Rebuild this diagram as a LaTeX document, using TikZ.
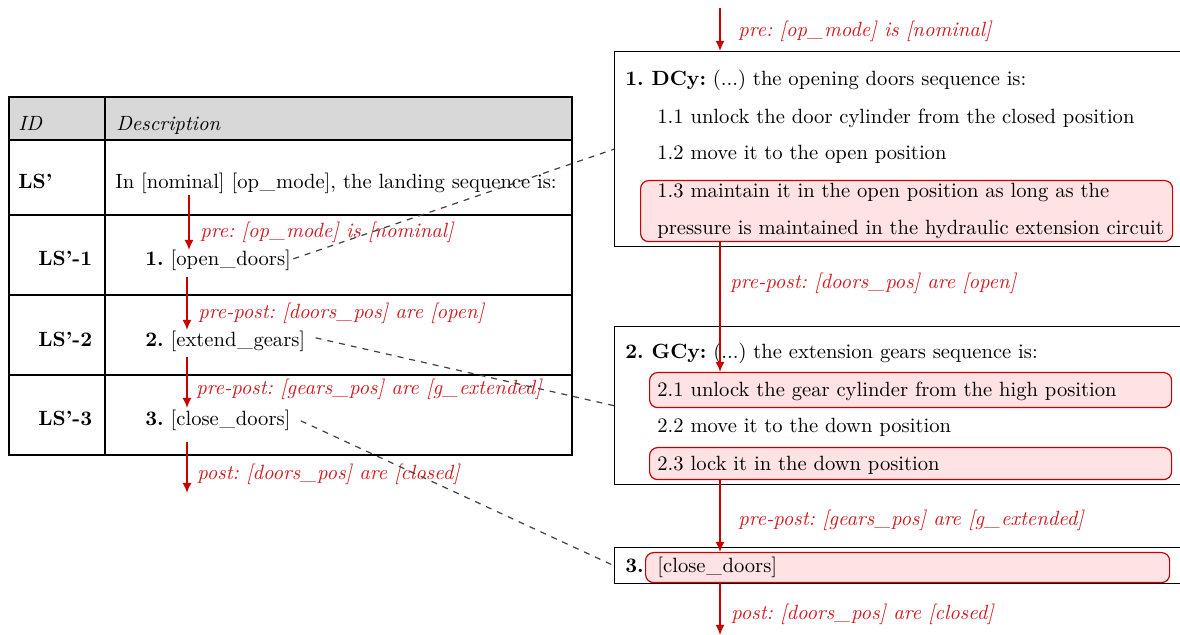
\documentclass[tikz,border=0pt]{standalone}
\usetikzlibrary{arrows.meta}
\definecolor{myred}{RGB}{200,0,0}
\definecolor{lblred}{RGB}{210,25,30}
\definecolor{hdrgray}{RGB}{216,216,216}
\definecolor{pinkfill}{RGB}{255,226,228}
\newcommand{\ulink}{\kern0.4pt\_\kern0.4pt}
\begin{document}
\fontsize{10.3pt}{12pt}\selectfont\frenchspacing
\begin{tikzpicture}[x=0.5pt,y=-0.5pt,
  txt/.style={anchor=base west,inner sep=0pt,yshift=-1pt},
  lbl/.style={anchor=base west,inner sep=0pt,yshift=-1pt,text=lblred,font=\itshape},
  flow/.style={draw=myred,line width=0.8pt,-{Latex[length=5pt,width=4.5pt]}},
  link/.style={draw=black!75,dashed,line width=0.6pt},
  hl/.style={draw=myred,fill=pinkfill,rounded corners=4pt,line width=0.6pt,inner sep=0pt},
  panel/.style={draw=black,line width=0.7pt,inner sep=0pt,anchor=north west},
  grid/.style={line width=0.8pt}]
\useasboundingbox (0,0) rectangle (1180,635);

% ---------------- table ----------------
\fill[hdrgray] (9,97) rectangle (572,140);
\draw[grid] (9,97) rectangle (572,455);
\foreach \yy in {140,215,295,375} \draw[grid] (9,\yy) -- (572,\yy);
\draw[grid] (105,97) -- (105,455);

\node[txt,font=\itshape] (hid) at (18,129) {ID};
\node[txt,font=\itshape] (hdesc) at (116,129) {Description};
\node[txt,font=\bfseries] (ls0) at (18,187) {LS'};
\node[txt] (d0) at (115,187) {In [nominal] [op\ulink mode], the landing sequence is:};
\node[txt,font=\bfseries] (ls1) at (38,264) {LS'-1};
\node[txt] (d1) at (145,264) {\textbf{1.} [open\ulink doors]};
\node[txt,font=\bfseries] (ls2) at (38,345) {LS'-2};
\node[txt] (d2) at (145,345) {\textbf{2.} [extend\ulink gears]};
\node[txt,font=\bfseries] (ls3) at (38,424) {LS'-3};
\node[txt] (d3) at (145,424) {\textbf{3.} [close\ulink doors]};

\coordinate (a1s) at (189,195);
\coordinate (a1e) at (189,250);
\coordinate (a2s) at (187,277);
\coordinate (a2e) at (187,330);
\coordinate (a3s) at (187,357);
\coordinate (a3e) at (187,408);
\coordinate (a4s) at (187,442);
\coordinate (a4e) at (187,493);
\draw[flow] (a1s) -- (a1e);
\draw[flow] (a2s) -- (a2e);
\draw[flow] (a3s) -- (a3e);
\draw[flow] (a4s) -- (a4e);
\node[lbl] (l1) at (200,236) {pre: [op\ulink mode] is [nominal]};
\node[lbl] (l2) at (198,317) {pre-post: [doors\ulink pos] are [open]};
\node[lbl] (l3) at (196,393) {pre-post: [gears\ulink pos] are [g\ulink extended]};
\node[lbl] (l4) at (197,478) {post: [doors\ulink pos] are [closed]};

% ---------------- right panels ----------------
\node[panel,minimum width=287pt,minimum height=97.5pt] (dcy) at (614,51) {};
\node[panel,minimum width=287pt,minimum height=79pt] (gcy) at (614,326) {};
\node[panel,minimum width=287pt,minimum height=18pt] (bx3) at (614,547) {};

\node[hl,anchor=north west,minimum width=266pt,minimum height=30.5pt] (h13) at (640,180) {};
\node[hl,anchor=north west,minimum width=261pt,minimum height=17.5pt] (h21) at (649,372) {};
\node[hl,anchor=north west,minimum width=261pt,minimum height=16pt] (h23) at (649,447) {};
\node[hl,anchor=north west,minimum width=262pt,minimum height=15pt] (h3) at (645,552) {};

\node[txt] (t10) at (625,84) {\textbf{1. DCy:} (...) the opening doors sequence is:};
\node[txt] (t11) at (657,122) {1.1 unlock the door cylinder from the closed position};
\node[txt] (t12) at (657,158) {1.2 move it to the open position};
\node[txt] (t13) at (657,196) {1.3 maintain it in the open position as long as the};
\node[txt] (t13b) at (657,233) {pressure is maintained in the hydraulic extension circuit};
\node[txt] (t20) at (625,357) {\textbf{2. GCy:} (...) the extension gears sequence is:};
\node[txt] (t21) at (657,395) {2.1 unlock the gear cylinder from the high position};
\node[txt] (t22) at (657,431) {2.2 move it to the down position};
\node[txt] (t23) at (657,469) {2.3 lock it in the down position};
\node[txt] (t30) at (625,571) {\textbf{3.}};
\node[txt] (t31) at (657,571) {[close\ulink doors]};

\coordinate (topin) at (720,8);
\coordinate (botout) at (720,635);
\draw[flow] (topin) -- (topin |- dcy.north);
\draw[flow] (h13.south -| topin) -- (h21.north -| topin);
\draw[flow] (h23.south -| topin) -- (h3.north -| topin);
\draw[flow] (h3.south -| topin) -- (botout);
\node[lbl] (r1) at (738,35) {pre: [op\ulink mode] is [nominal]};
\node[lbl] (r2) at (730,287) {pre-post: [doors\ulink pos] are [open]};
\node[lbl] (r3) at (738,524) {pre-post: [gears\ulink pos] are [g\ulink extended]};
\node[lbl] (r4) at (731,618) {post: [doors\ulink pos] are [closed]};

% ---------------- dashed links ----------------
\draw[link] ([xshift=1pt,yshift=1pt]d1.east) -- (dcy.west);
\draw[link] ([xshift=5pt,yshift=2pt]d2.east) -- (gcy.west);
\draw[link] ([xshift=5pt]d3.east) -- (bx3.west);
\end{tikzpicture}
\end{document}
